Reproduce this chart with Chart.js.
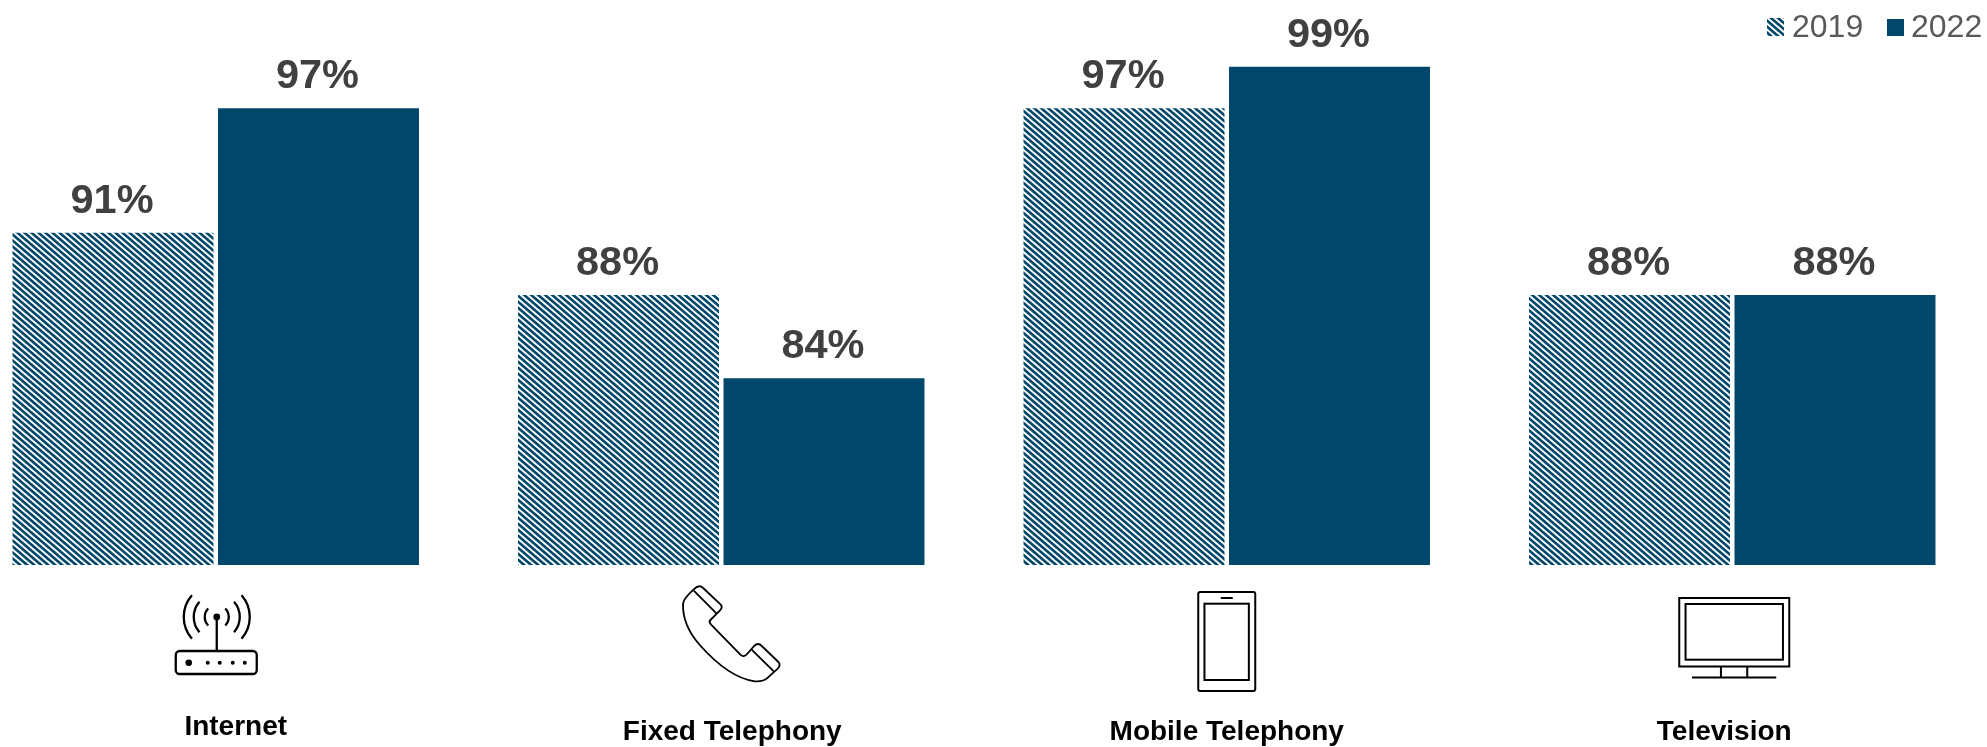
<!DOCTYPE html>
<html><head><meta charset="utf-8">
<style>html,body{margin:0;padding:0;background:#fff;overflow:hidden;width:1987px;height:747px}canvas{display:block;position:absolute;left:-37px;top:0}</style>
<script src="https://cdn.jsdelivr.net/npm/chart.js@4/dist/chart.umd.min.js"></script>
</head><body><canvas id="c" width="2024" height="747" style="width:2024px;height:747px"></canvas>
<script>
const categories = ['Internet','Fixed Telephony','Mobile Telephony','Television'];
const seriesNames = ['2019','2022'];
const values2019 = [91,88,97,88];
const values2022 = [97,84,99,88];

const DARK = '#00476b', FONT = '"Liberation Sans", Arial, sans-serif';
const PAGE_SHIFT = 37;                  // canvas starts left of the page so the first group sits at the edge
const labelShift = [20,11,0,-8];        // category text offset from group centre
const labelBaseline = [735,740,740,740];
const iconShift = [1,11,0,2];

function hatchTile(){
  const t=document.createElement('canvas'); t.width=7; t.height=6;
  const g=t.getContext('2d');
  g.fillStyle='#fff'; g.fillRect(0,0,7,6);
  g.strokeStyle=DARK; g.lineWidth=2.6;
  for(let k=-3;k<=3;k++){ g.beginPath(); g.moveTo(7*k-7,-6); g.lineTo(7*k+14,12); g.stroke(); }
  return t;
}
const tile = hatchTile();
const hatch = document.getElementById('c').getContext('2d').createPattern(tile,'repeat');

function poly(g,pts,close){ g.beginPath(); pts.forEach((q,i)=>i?g.lineTo(q[0],q[1]):g.moveTo(q[0],q[1])); if(close)g.closePath(); g.stroke(); }
const icons = [
 function(g){ // router, origin at antenna axis
  g.lineWidth=2.3; g.lineCap='butt';
  g.beginPath(); g.roundRect(-41,34,81,23,4); g.stroke();
  poly(g,[[0,0],[0,34]]);
  g.beginPath(); g.arc(0,0,3.4,0,7); g.fill();
  [[12,.78],[23,.72],[33,.72]].forEach(([r,a])=>{
    g.beginPath(); g.arc(0,0,r,-a,a); g.stroke();
    g.beginPath(); g.arc(0,0,r,Math.PI-a,Math.PI+a); g.stroke();
  });
  g.beginPath(); g.arc(-28,45.7,3.3,0,7); g.fill();
  [-9,3,16,28].forEach(x=>{ g.beginPath(); g.arc(x,45.7,2,0,7); g.fill(); });
 },
 function(g){ // handset
  g.lineJoin='round';
  g.save(); g.translate(-112.5,0); g.scale(1/3,1/3); g.lineWidth=5.5;
  g.beginPath();
  g.moveTo(190,100); g.quadraticCurveTo(192,85,222,58);
  g.quadraticCurveTo(238,42,250,54);
  g.lineTo(303,104); g.quadraticCurveTo(310,112,300,122);
  g.lineTo(272,150); g.quadraticCurveTo(266,156,274,164);
  g.lineTo(362,254); g.quadraticCurveTo(372,264,382,252);
  g.lineTo(403,228); g.quadraticCurveTo(415,216,426,228);
  g.lineTo(476,276); g.quadraticCurveTo(484,285,474,296);
  g.lineTo(445,322); g.quadraticCurveTo(430,336,405,334);
  g.bezierCurveTo(340,325,280,270,240,225);
  g.bezierCurveTo(205,185,188,140,190,100);
  g.closePath(); g.stroke();
  poly(g,[[222,62],[290,130]]); poly(g,[[395,238],[462,304]]);
  g.restore();
 },
 function(g){ // mobile
  g.lineWidth=2;
  g.beginPath(); g.roundRect(-28.5,0,57,99,2); g.stroke();
  g.strokeRect(-22.3,11.7,44.4,76.3);
  poly(g,[[-6,6],[6,6]]);
 },
 function(g){ // television
  g.lineWidth=2;
  g.strokeRect(-55,0,110,68.5);
  g.strokeRect(-48.7,6,97.4,55.7);
  poly(g,[[-13.3,68.5],[-13.3,79.5]]); poly(g,[[13,68.5],[13,79.5]]);
  poly(g,[[-42.3,79.5],[42,79.5]]);
 }
];
const iconTop = [617,570,592,598];

const overlay = {
  id:'overlay',
  afterDatasetsDraw(chart){
    const g=chart.ctx, x=chart.scales.x;
    g.save();
    // value labels
    g.font='bold 41.5px '+FONT; g.fillStyle='#404040'; g.textAlign='center'; g.textBaseline='alphabetic';
    chart.data.datasets.forEach((d,i)=>{
      chart.getDatasetMeta(i).data.forEach((b,j)=>{ g.fillText(d.data[j]+'%', b.x-1, b.y-20); });
    });
    // category labels and icons
    g.font='bold 28px '+FONT; g.fillStyle='#000';
    categories.forEach((c,i)=>{
      const cx=x.getPixelForValue(i);
      g.fillText(c,cx+labelShift[i],labelBaseline[i]);
      g.save(); g.translate(cx+iconShift[i],iconTop[i]); g.strokeStyle='#000'; g.fillStyle='#000'; icons[i](g); g.restore();
    });
    // legend
    g.translate(PAGE_SHIFT,0);
    g.font='32px '+FONT; g.textAlign='left';
    g.fillStyle=hatch; g.fillRect(1767,18,17,18);
    g.fillStyle='#595959'; g.fillText(seriesNames[0],1792,37);
    g.fillStyle=DARK; g.fillRect(1887,19,17,17);
    g.fillStyle='#595959'; g.fillText(seriesNames[1],1911,37);
    g.restore();
  }
};

new Chart(document.getElementById('c'),{
  type:'bar',
  data:{labels:categories,datasets:[
    {label:seriesNames[0],data:values2019,backgroundColor:hatch,borderWidth:0},
    {label:seriesNames[1],data:values2022,backgroundColor:DARK,borderWidth:0}
  ]},
  options:{
    responsive:false,animation:false,devicePixelRatio:1,
    layout:{padding:{left:0,right:2,top:46,bottom:182}},
    datasets:{bar:{categoryPercentage:0.813,barPercentage:0.978}},
    scales:{
      x:{display:false,offset:true},
      y:{display:false,min:75,max:100,beginAtZero:false}
    },
    plugins:{legend:{display:false},tooltip:{enabled:false},title:{display:false}}
  },
  plugins:[overlay]
});
</script>
</body></html>
